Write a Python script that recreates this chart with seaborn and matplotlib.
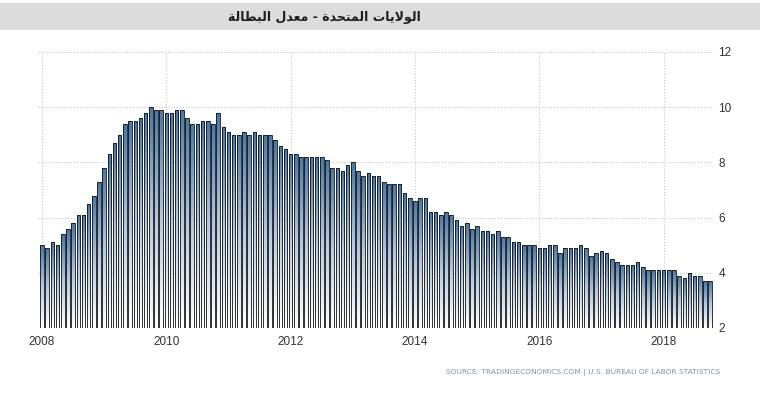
import numpy as np
import pandas as pd
import seaborn as sns
import matplotlib.pyplot as plt
from matplotlib.colors import LinearSegmentedColormap
from matplotlib.patches import Rectangle

# US unemployment rate, monthly (%)
rate_2008 = [5.0, 4.9, 5.1, 5.0, 5.4, 5.6, 5.8, 6.1, 6.1, 6.5, 6.8, 7.3]
rate_2009 = [7.8, 8.3, 8.7, 9.0, 9.4, 9.5, 9.5, 9.6, 9.8, 10.0, 9.9, 9.9]
rate_2010 = [9.8, 9.8, 9.9, 9.9, 9.6, 9.4, 9.4, 9.5, 9.5, 9.4, 9.8, 9.3]
rate_2011 = [9.1, 9.0, 9.0, 9.1, 9.0, 9.1, 9.0, 9.0, 9.0, 8.8, 8.6, 8.5]
rate_2012 = [8.3, 8.3, 8.2, 8.2, 8.2, 8.2, 8.2, 8.1, 7.8, 7.8, 7.7, 7.9]
rate_2013 = [8.0, 7.7, 7.5, 7.6, 7.5, 7.5, 7.3, 7.2, 7.2, 7.2, 6.9, 6.7]
rate_2014 = [6.6, 6.7, 6.7, 6.2, 6.2, 6.1, 6.2, 6.1, 5.9, 5.7, 5.8, 5.6]
rate_2015 = [5.7, 5.5, 5.5, 5.4, 5.5, 5.3, 5.3, 5.1, 5.1, 5.0, 5.0, 5.0]
rate_2016 = [4.9, 4.9, 5.0, 5.0, 4.7, 4.9, 4.9, 4.9, 5.0, 4.9, 4.6, 4.7]
rate_2017 = [4.8, 4.7, 4.5, 4.4, 4.3, 4.3, 4.3, 4.4, 4.2, 4.1, 4.1, 4.1]
rate_2018 = [4.1, 4.1, 4.1, 3.9, 3.8, 4.0, 3.9, 3.9, 3.7, 3.7]

years = [2008, 2009, 2010, 2011, 2012, 2013, 2014, 2015, 2016, 2017, 2018]
year_labels = ["2008", "2010", "2012", "2014", "2016", "2018"]
y_ticks = [2, 4, 6, 8, 10, 12]

# title is "الولايات المتحدة - معدل البطالة", written in presentation forms
# because matplotlib does no arabic shaping; reversed for left-to-right drawing
title_shaped = ("\uFE8D\uFEDF\uFEEE\uFEFB\uFEF3\uFE8E\uFE95 "
                "\uFE8D\uFEDF\uFEE4\uFE98\uFEA4\uFEAA\uFE93 - "
                "\uFEE3\uFECC\uFEAA\uFEDD "
                "\uFE8D\uFEDF\uFE92\uFEC4\uFE8E\uFEDF\uFE94")
title = title_shaped[::-1]
source = "SOURCE: TRADINGECONOMICS.COM | U.S. BUREAU OF LABOR STATISTICS"

all_rates = (rate_2008 + rate_2009 + rate_2010 + rate_2011 + rate_2012 + rate_2013
             + rate_2014 + rate_2015 + rate_2016 + rate_2017 + rate_2018)
month_names = [f"{y}-{m:02d}" for y in years for m in range(1, 13)][:len(all_rates)]
df = pd.DataFrame({"month": month_names, "rate": all_rates})

sns.set_style("white")
plt.rcParams["font.family"] = ["Liberation Sans", "DejaVu Sans"]

fig = plt.figure(figsize=(7.6, 3.99), dpi=100)

# grey title band
fig.add_artist(Rectangle((0, 1 - 30 / 399), 1, 27 / 399, transform=fig.transFigure,
                         facecolor="#dcdcdc", edgecolor="none", zorder=0))
fig.text(324 / 760, 1 - 17 / 399, title, ha="center", va="center", fontsize=9,
         fontweight="bold", family="DejaVu Sans", color="#1e1e1e")

ax = fig.add_axes([37.9 / 760, 1 - 328 / 399, (712.8 - 37.9) / 760, (328 - 52) / 399])

sns.barplot(data=df, x="month", y="rate", ax=ax, color="white", width=0.68,
            edgecolor="#111111", linewidth=0.6)

cmap = LinearSegmentedColormap.from_list("bars", ["#ffffff", "#b3cae3", "#4a78a8"])
grad = np.linspace(0, 1, 100).reshape(-1, 1)
for p in ax.patches:
    x0, w, h = p.get_x(), p.get_width(), p.get_height()
    p.set_facecolor("none")
    p.set_zorder(2)
    im = ax.imshow(grad, extent=[x0, x0 + w, 2, h], origin="lower", aspect="auto",
                   cmap=cmap, zorder=1.5)
    im.set_clip_path(p)

ax.set_xlim(-0.8, 129.5)
ax.set_ylim(2, 12)

ax.set_xticks(range(0, 130, 24))
ax.set_xticklabels(year_labels)
ax.yaxis.tick_right()
ax.set_yticks(y_ticks)
ax.set_xlabel("")
ax.set_ylabel("")
ax.tick_params(axis="x", length=3, color="#bbbbbb", labelsize=8.5, labelcolor="#333333", pad=3)
ax.tick_params(axis="y", length=0, labelsize=8.5, labelcolor="#333333", pad=4)

ax.grid(True, linestyle=":", color="#c4c4c4", linewidth=0.8)
ax.set_axisbelow(True)
for s in ax.spines.values():
    s.set_visible(False)

fig.text(720 / 760, 1 - 372 / 399, source, ha="right", va="center", fontsize=5.4,
         family="DejaVu Sans", color="#8393a3")

fig.savefig("out.png", dpi=100)
